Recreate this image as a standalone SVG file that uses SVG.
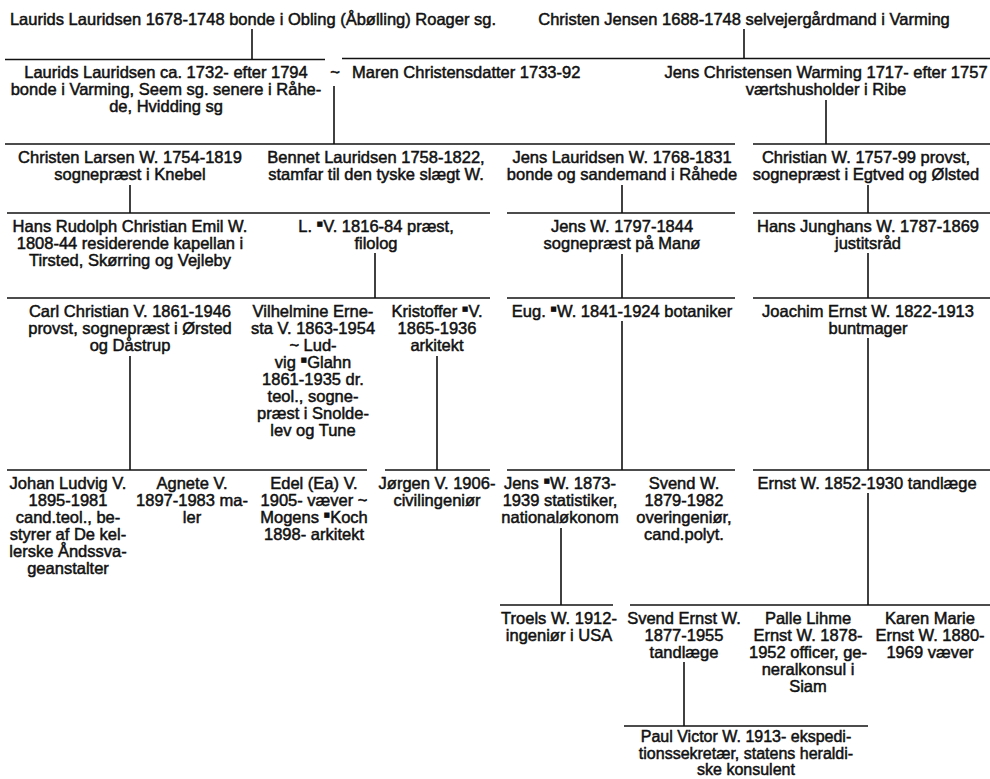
<svg xmlns="http://www.w3.org/2000/svg" width="990" height="779" viewBox="0 0 990 779">
<style>
.t{font-family:"Liberation Sans",Arial,Helvetica,sans-serif;font-size:16.5px;fill:#111;stroke:#111;stroke-width:0.5;text-anchor:middle}
.s{text-anchor:start}
.p{font-size:16px}
.m{font-family:"DejaVu Sans",sans-serif;font-size:7px;stroke-width:0}
.c line{stroke:#111;stroke-width:1.6;fill:none}
</style>
<rect width="990" height="779" fill="#fff"/>
<g id="connectors" class="c">
<line x1="252" y1="29" x2="252" y2="59"/>
<line x1="744" y1="29" x2="744" y2="59"/>
<line x1="5" y1="59.5" x2="325" y2="59.5"/>
<line x1="342" y1="58.5" x2="990" y2="58.5"/>
<line x1="334" y1="86" x2="334" y2="144"/>
<line x1="826" y1="100" x2="826" y2="144"/>
<line x1="5" y1="144" x2="735" y2="144"/>
<line x1="753" y1="144" x2="990" y2="144"/>
<line x1="130" y1="185" x2="130" y2="213"/>
<line x1="622" y1="185" x2="622" y2="213"/>
<line x1="868" y1="185" x2="868" y2="213"/>
<line x1="7" y1="213" x2="490" y2="213"/>
<line x1="507" y1="213" x2="735" y2="213"/>
<line x1="753" y1="213" x2="990" y2="213"/>
<line x1="375" y1="253" x2="375" y2="298"/>
<line x1="622" y1="254" x2="622" y2="298"/>
<line x1="868" y1="253" x2="868" y2="298"/>
<line x1="7" y1="298" x2="490" y2="298"/>
<line x1="507" y1="298" x2="735" y2="298"/>
<line x1="753" y1="298" x2="990" y2="298"/>
<line x1="130" y1="356" x2="130" y2="470"/>
<line x1="437" y1="356" x2="437" y2="470"/>
<line x1="622" y1="321" x2="622" y2="470"/>
<line x1="868" y1="338" x2="868" y2="470"/>
<line x1="7" y1="470" x2="367" y2="470"/>
<line x1="385" y1="470" x2="490" y2="470"/>
<line x1="507" y1="470" x2="735" y2="470"/>
<line x1="753" y1="470" x2="990" y2="470"/>
<line x1="561" y1="528" x2="561" y2="605"/>
<line x1="868" y1="493" x2="868" y2="605"/>
<line x1="500" y1="605" x2="613" y2="605"/>
<line x1="630" y1="605" x2="990" y2="605"/>
<line x1="684" y1="662" x2="684" y2="726"/>
<line x1="624" y1="726" x2="868" y2="726"/>
</g>
<g id="n-laurids-1678"><text class="t" x="253" y="25">Laurids Lauridsen 1678-1748 bonde i Obling (Åbølling) Roager sg.</text></g>
<g id="n-christen-jensen"><text class="t" x="744" y="25">Christen Jensen 1688-1748 selvejergårdmand i Varming</text></g>
<g id="n-laurids-1732">
<text class="t" x="166" y="78">Laurids Lauridsen ca. 1732- efter 1794</text>
<text class="t" x="166" y="95">bonde i Varming, Seem sg. senere i Råhe-</text>
<text class="t" x="166" y="112">de, Hvidding sg</text>
</g>
<g id="n-maren">
<text class="t" x="335" y="78">~</text>
<text class="t s" x="352" y="78">Maren Christensdatter 1733-92</text>
</g>
<g id="n-jens-warming">
<text class="t" x="826" y="78">Jens Christensen Warming 1717- efter 1757</text>
<text class="t" x="826" y="95">værtshusholder i Ribe</text>
</g>
<g id="n-christen-larsen">
<text class="t" x="130" y="163">Christen Larsen W. 1754-1819</text>
<text class="t" x="130" y="180">sognepræst i Knebel</text>
</g>
<g id="n-bennet">
<text class="t" x="376" y="163">Bennet Lauridsen 1758-1822,</text>
<text class="t" x="376" y="180">stamfar til den tyske slægt W.</text>
</g>
<g id="n-jens-lauridsen">
<text class="t" x="622" y="163">Jens Lauridsen W. 1768-1831</text>
<text class="t" x="622" y="180">bonde og sandemand i Råhede</text>
</g>
<g id="n-christian">
<text class="t" x="866" y="163">Christian W. 1757-99 provst,</text>
<text class="t" x="866" y="180">sognepræst i Egtved og Ølsted</text>
</g>
<g id="n-hans-rudolph">
<text class="t" x="130" y="232">Hans Rudolph Christian Emil W.</text>
<text class="t" x="130" y="249">1808-44 residerende kapellan i</text>
<text class="t" x="130" y="266">Tirsted, Skørring og Vejleby</text>
</g>
<g id="n-l-v">
<text class="t" x="376" y="232">L. <tspan class="m" dy="-6">■</tspan><tspan dy="6">V. 1816-84 præst,</tspan></text>
<text class="t" x="376" y="249">filolog</text>
</g>
<g id="n-jens-1797">
<text class="t" x="622" y="232">Jens W. 1797-1844</text>
<text class="t" x="622" y="249">sognepræst på Manø</text>
</g>
<g id="n-hans-junghans">
<text class="t" x="868" y="232">Hans Junghans W. 1787-1869</text>
<text class="t" x="868" y="249">justitsråd</text>
</g>
<g id="n-carl-christian">
<text class="t" x="130" y="317">Carl Christian V. 1861-1946</text>
<text class="t" x="130" y="334">provst, sognepræst i Ørsted</text>
<text class="t" x="130" y="351">og Dåstrup</text>
</g>
<g id="n-vilhelmine">
<text class="t" x="313" y="317">Vilhelmine Erne-</text>
<text class="t" x="313" y="334">sta V. 1863-1954</text>
<text class="t" x="313" y="351">~ Lud-</text>
<text class="t" x="313" y="368">vig <tspan class="m" dy="-6">■</tspan><tspan dy="6">Glahn</tspan></text>
<text class="t" x="313" y="385">1861-1935 dr.</text>
<text class="t" x="313" y="402">teol., sogne-</text>
<text class="t" x="313" y="419">præst i Snolde-</text>
<text class="t" x="313" y="436">lev og Tune</text>
</g>
<g id="n-kristoffer">
<text class="t" x="437" y="317">Kristoffer <tspan class="m" dy="-6">■</tspan><tspan dy="6">V.</tspan></text>
<text class="t" x="437" y="334">1865-1936</text>
<text class="t" x="437" y="351">arkitekt</text>
</g>
<g id="n-eug">
<text class="t" x="622" y="317">Eug. <tspan class="m" dy="-6">■</tspan><tspan dy="6">W. 1841-1924 botaniker</tspan></text>
</g>
<g id="n-joachim">
<text class="t" x="868" y="317">Joachim Ernst W. 1822-1913</text>
<text class="t" x="868" y="334">buntmager</text>
</g>
<g id="n-johan-ludvig">
<text class="t" x="68" y="489">Johan Ludvig V.</text>
<text class="t" x="68" y="506">1895-1981</text>
<text class="t" x="68" y="523">cand.teol., be-</text>
<text class="t" x="68" y="540">styrer af De kel-</text>
<text class="t" x="68" y="557">lerske Åndssva-</text>
<text class="t" x="68" y="574">geanstalter</text>
</g>
<g id="n-agnete">
<text class="t" x="192" y="489">Agnete V.</text>
<text class="t" x="192" y="506">1897-1983 ma-</text>
<text class="t" x="192" y="523">ler</text>
</g>
<g id="n-edel">
<text class="t" x="314" y="489">Edel (Ea) V.</text>
<text class="t" x="314" y="506">1905- væver ~</text>
<text class="t" x="314" y="523">Mogens <tspan class="m" dy="-6">■</tspan><tspan dy="6">Koch</tspan></text>
<text class="t" x="314" y="540">1898- arkitekt</text>
</g>
<g id="n-jorgen">
<text class="t" x="437" y="489">Jørgen V. 1906-</text>
<text class="t" x="437" y="506">civilingeniør</text>
</g>
<g id="n-jens-1873">
<text class="t" x="560" y="489">Jens <tspan class="m" dy="-6">■</tspan><tspan dy="6">W. 1873-</tspan></text>
<text class="t" x="560" y="506">1939 statistiker,</text>
<text class="t" x="560" y="523">nationaløkonom</text>
</g>
<g id="n-svend">
<text class="t" x="684" y="489">Svend W.</text>
<text class="t" x="684" y="506">1879-1982</text>
<text class="t" x="684" y="523">overingeniør,</text>
<text class="t" x="684" y="540">cand.polyt.</text>
</g>
<g id="n-ernst">
<text class="t" x="867" y="489">Ernst W. 1852-1930 tandlæge</text>
</g>
<g id="n-troels">
<text class="t" x="559" y="624">Troels W. 1912-</text>
<text class="t" x="559" y="641">ingeniør i USA</text>
</g>
<g id="n-svend-ernst">
<text class="t" x="684" y="624">Svend Ernst W.</text>
<text class="t" x="684" y="641">1877-1955</text>
<text class="t" x="684" y="658">tandlæge</text>
</g>
<g id="n-palle">
<text class="t" x="808" y="624">Palle Lihme</text>
<text class="t" x="808" y="641">Ernst W. 1878-</text>
<text class="t" x="808" y="658">1952 officer, ge-</text>
<text class="t" x="808" y="675">neralkonsul i</text>
<text class="t" x="808" y="692">Siam</text>
</g>
<g id="n-karen">
<text class="t" x="930" y="624">Karen Marie</text>
<text class="t" x="930" y="641">Ernst W. 1880-</text>
<text class="t" x="930" y="658">1969 væver</text>
</g>
<g id="n-paul-victor">
<text class="t p" x="746" y="742">Paul Victor W. 1913- ekspedi-</text>
<text class="t p" x="746" y="758.5">tionssekretær, statens heraldi-</text>
<text class="t p" x="746" y="775">ske konsulent</text>
</g>
</svg>
